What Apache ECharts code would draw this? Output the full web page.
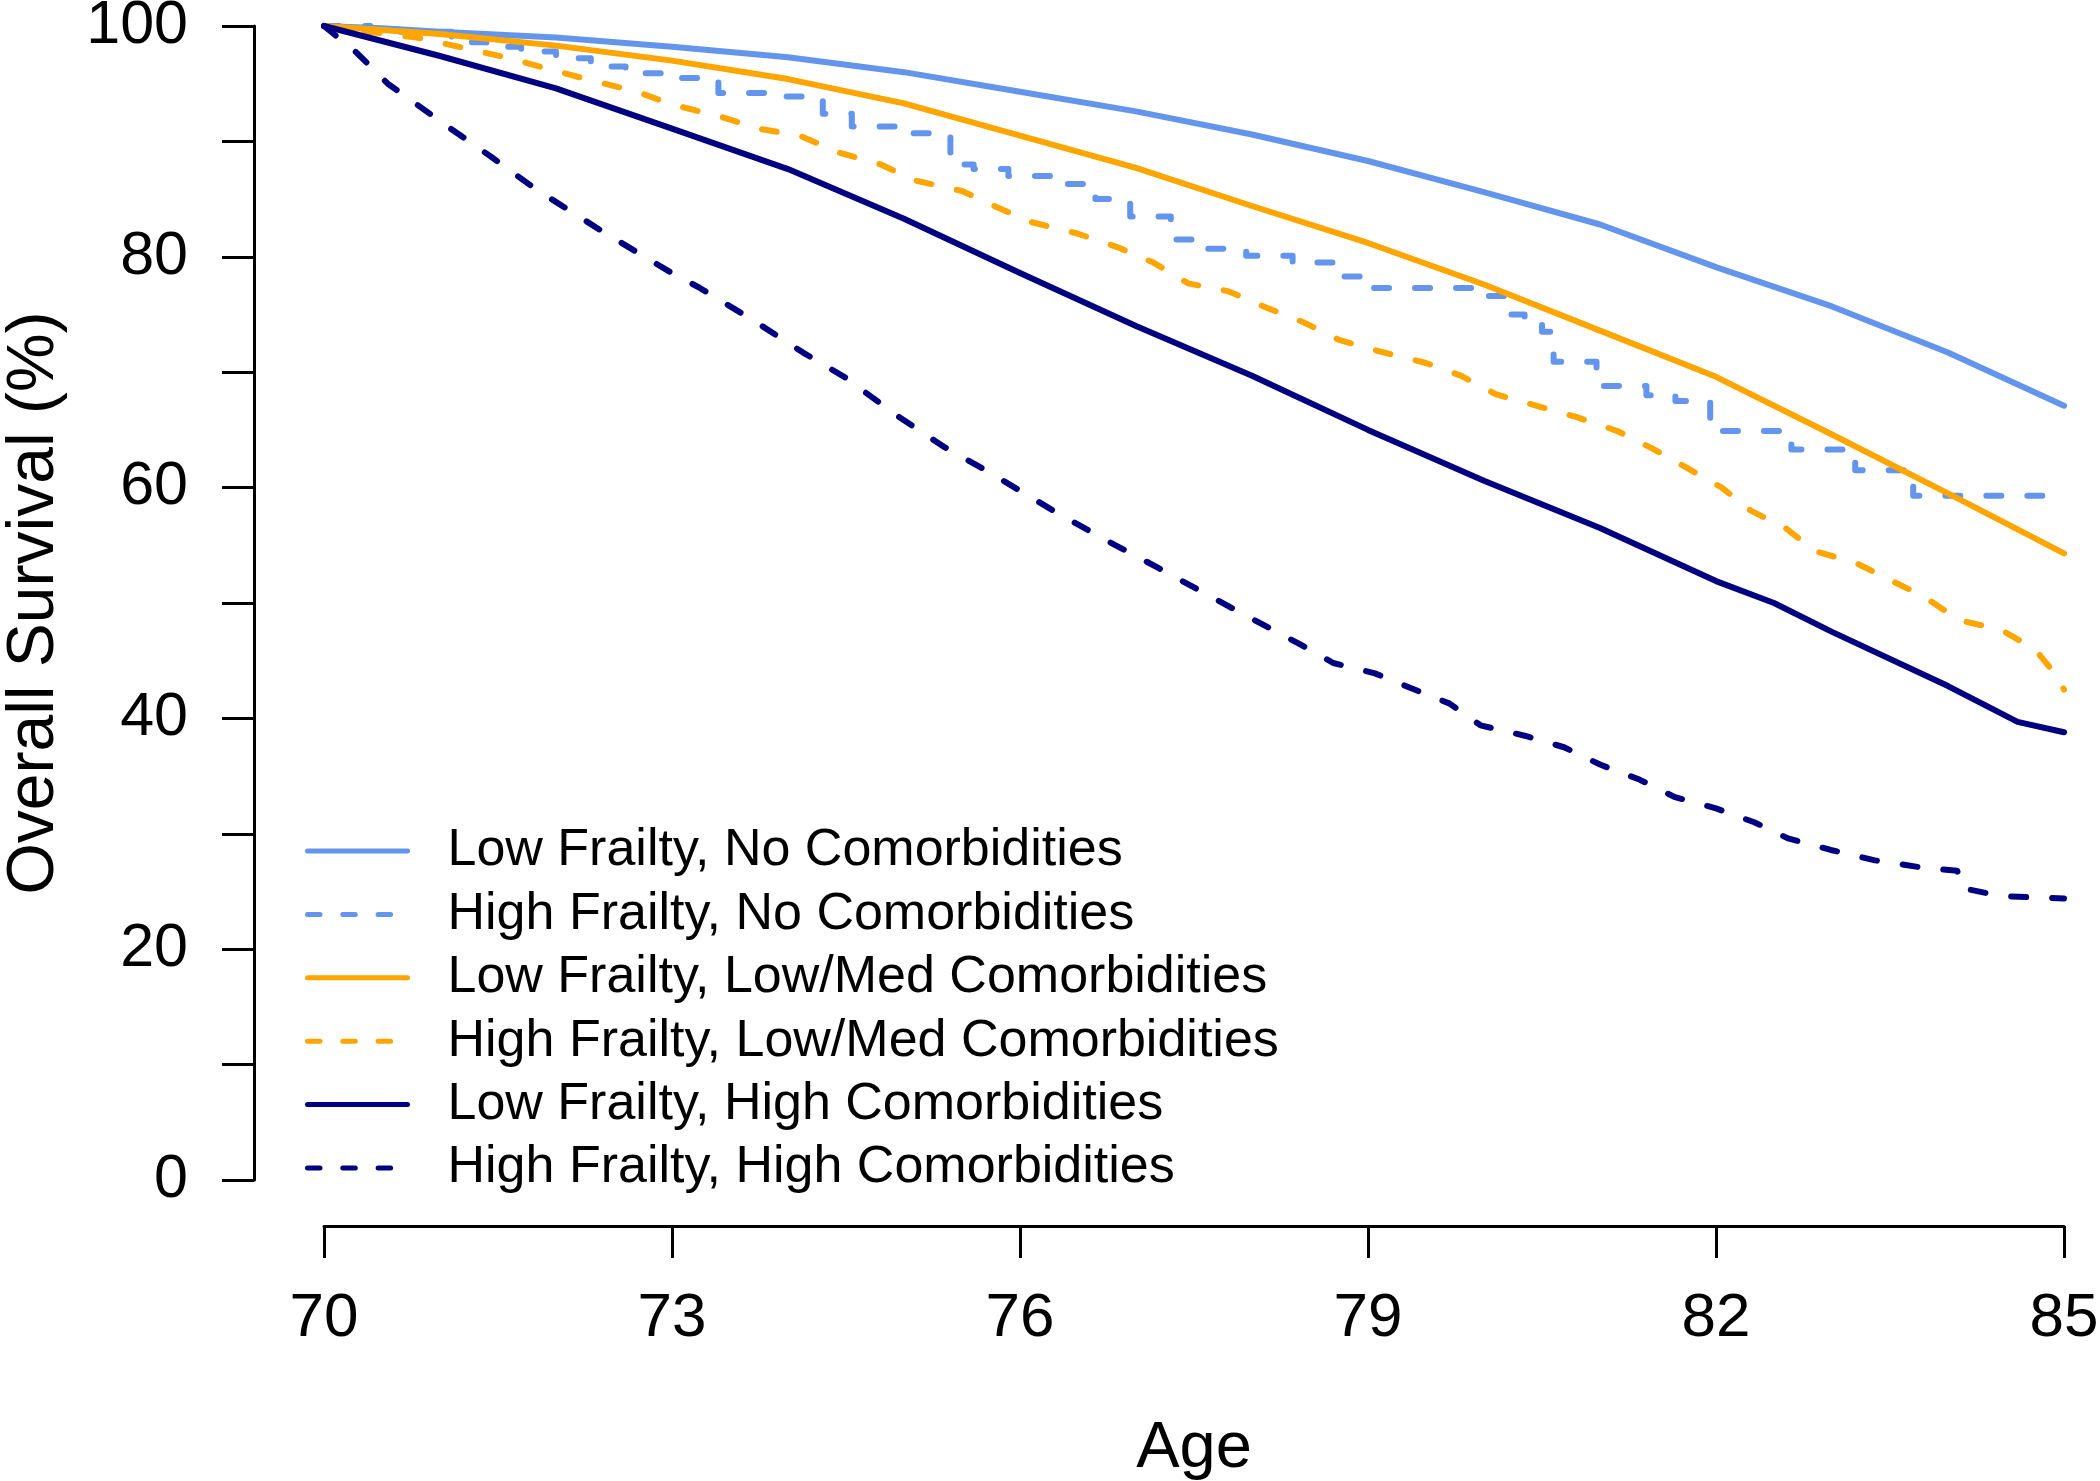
<!DOCTYPE html>
<html>
<head>
<meta charset="utf-8">
<script src="https://cdn.jsdelivr.net/npm/echarts@6/dist/echarts.min.js"></script>
<style>
html,body{margin:0;padding:0;background:#fff;}
#chart{width:2100px;height:1481px;}
</style>
</head>
<body>
<div id="chart"></div>
<script>
// ---- Data ----
const seriesNames = [
  'Low Frailty, No Comorbidities',
  'High Frailty, No Comorbidities',
  'Low Frailty, Low/Med Comorbidities',
  'High Frailty, Low/Med Comorbidities',
  'Low Frailty, High Comorbidities',
  'High Frailty, High Comorbidities'
];
const xTicks = [70, 73, 76, 79, 82, 85];
const yTicks = [0, 10, 20, 30, 40, 50, 60, 70, 80, 90, 100];
const yLabels = [0, 20, 40, 60, 80, 100];

const ageLowNo = [70, 70.5, 71, 72, 73, 74, 75, 76, 77, 78, 79, 80, 81, 82, 83, 84, 85];
const survLowNo = [100, 99.8, 99.5, 99.0, 98.2, 97.3, 96.0, 94.3, 92.6, 90.6, 88.3, 85.6, 82.8, 79.1, 75.7, 71.7, 67.1];

const ageHighNo = [70, 70.4, 71.1, 71.4, 71.7, 72.0, 72.3, 72.6, 73.0, 73.4, 73.85, 74.3, 74.55, 74.95, 75.4, 75.6, 75.9, 76.35, 76.65, 76.95, 77.3, 77.55, 77.95, 78.35, 78.75, 79.0, 79.9, 80.2, 80.35, 80.5, 80.6, 80.97, 81.4, 81.65, 81.95, 82.65, 83.2, 83.7, 85];
const survHighNo = [100, 99.5, 98.6, 98.2, 97.8, 97.2, 96.5, 95.9, 95.5, 94.2, 93.9, 92.4, 91.3, 90.7, 88.0, 87.6, 87.0, 86.3, 85.0, 83.5, 81.5, 80.7, 80.1, 79.5, 78.3, 77.3, 76.6, 75.0, 74.1, 73.5, 70.9, 68.8, 68.0, 67.5, 64.9, 63.3, 61.5, 59.3, 59.3];

const ageLowMed = [70, 71, 72, 73, 74, 75, 76, 77, 78, 79, 80, 81, 82, 83, 84, 85];
const survLowMed = [100, 99.3, 98.3, 97.0, 95.4, 93.3, 90.5, 87.7, 84.4, 81.2, 77.6, 73.6, 69.6, 64.6, 59.5, 54.3];

const ageHighMed = [70, 70.3, 70.8, 71.25, 71.6, 72.0, 72.3, 72.7, 73.0, 73.4, 73.75, 74.1, 74.45, 74.8, 75.1, 75.5, 75.8, 76.1, 76.5, 76.85, 77.15, 77.45, 77.8, 78.1, 78.45, 78.75, 79.1, 79.5, 79.8, 80.1, 80.45, 80.8, 81.15, 81.45, 81.75, 82.05, 82.3, 82.6, 82.85, 83.2, 83.5, 83.8, 84.1, 84.45, 84.75, 84.95, 85];
const survHighMed = [100, 99.6, 99.0, 98.0, 97.2, 96.1, 95.3, 94.3, 93.2, 92.2, 91.1, 90.5, 89.0, 88.0, 86.6, 85.7, 84.3, 83.0, 82.0, 80.8, 79.5, 77.7, 77.0, 75.7, 74.3, 72.8, 71.8, 70.8, 69.7, 68.1, 67.1, 66.1, 64.9, 63.4, 61.7, 60.0, 58.0, 56.5, 54.5, 53.5, 52.0, 50.5, 48.5, 47.7, 46.0, 43.5, 42.5];

const ageLowHigh = [70, 71, 72, 73, 74, 75, 76, 77, 78, 79, 80, 81, 82, 82.5, 83, 84, 84.6, 85];
const survLowHigh = [100, 97.4, 94.6, 91.1, 87.6, 83.3, 78.6, 74.0, 69.7, 65.0, 60.6, 56.5, 51.9, 50.0, 47.5, 42.8, 39.7, 38.8];

const ageHighHigh = [70, 70.28, 70.55, 71.05, 71.45, 71.82, 72.4, 72.98, 73.24, 73.7, 74.13, 74.5, 74.93, 75.35, 75.74, 76.32, 76.75, 77.2, 77.8, 78.1, 78.4, 78.7, 79.06, 79.4, 79.7, 79.97, 80.35, 80.69, 81.0, 81.34, 81.64, 82.0, 82.33, 82.62, 82.99, 83.37, 83.76, 84.08, 84.12, 84.46, 85];
const survHighHigh = [100, 97.7, 95.0, 91.4, 88.6, 85.9, 82.2, 78.7, 77.3, 74.5, 71.7, 69.5, 66.3, 63.5, 61.3, 57.8, 55.4, 53.0, 49.7, 48.1, 46.5, 44.8, 43.9, 42.5, 41.3, 39.4, 38.5, 37.5, 36.0, 34.7, 33.2, 32.2, 31.0, 29.6, 28.6, 27.7, 27.1, 26.8, 25.3, 24.6, 24.4];

// ---- Build ----
const zip = (a, b) => a.map((x, i) => [x, b[i]]);
const LIGHT = '#6495ED', ORANGE = '#FFA500', NAVY = '#000080';
const DASH = [15, 26];
const LEG_DASH = [12.5, 22.8];
const FONT = '"Liberation Sans", Arial, sans-serif';
const colors = [LIGHT, LIGHT, ORANGE, ORANGE, NAVY, NAVY];
const dashed = [false, true, false, true, false, true];

function mk(name, ages, vals, color, isDashed, step) {
  return {
    name: name,
    type: 'line',
    data: zip(ages, vals),
    symbol: 'none',
    showSymbol: false,
    step: step ? 'end' : false,
    clip: false,
    silent: true,
    animation: false,
    lineStyle: { color: color, width: 6, type: isDashed ? DASH : 'solid', cap: 'round', join: 'round' },
    itemStyle: { color: color }
  };
}

const series = [
  mk(seriesNames[0], ageLowNo, survLowNo, LIGHT, false, false),
  mk(seriesNames[1], ageHighNo, survHighNo, LIGHT, true, true),
  mk(seriesNames[2], ageLowMed, survLowMed, ORANGE, false, false),
  mk(seriesNames[3], ageHighMed, survHighMed, ORANGE, true, false),
  mk(seriesNames[4], ageLowHigh, survLowHigh, NAVY, false, false),
  mk(seriesNames[5], ageHighHigh, survHighHigh, NAVY, true, false)
];

const legendData = seriesNames.map((n, i) => ({
  name: n,
  itemStyle: { opacity: 0, borderWidth: 0 },
  lineStyle: { color: colors[i], width: 5, type: dashed[i] ? LEG_DASH : 'solid', cap: 'round' }
}));

const chart = echarts.init(document.getElementById('chart'), null, { renderer: 'canvas', width: 2100, height: 1481 });
chart.setOption({
  backgroundColor: '#ffffff',
  animation: false,
  textStyle: { fontFamily: FONT, color: '#000' },
  grid: { left: 324, right: 36, top: 26, bottom: 301, containLabel: false, outerBoundsMode: 'none' },
  xAxis: {
    type: 'value',
    min: 70, max: 85,
    offset: 46,
    name: 'Age',
    nameLocation: 'middle',
    nameGap: 191,
    nameTextStyle: { fontSize: 65, color: '#000', fontFamily: FONT },
    axisLine: { show: true, onZero: false, lineStyle: { color: '#000', width: 3 } },
    axisTick: { show: true, length: 32, lineStyle: { color: '#000', width: 3 }, customValues: xTicks },
    axisLabel: { fontSize: 62, color: '#000', margin: 62, fontFamily: FONT, customValues: xTicks, showMinLabel: true, showMaxLabel: true },
    splitLine: { show: false }
  },
  yAxis: {
    type: 'value',
    min: 0, max: 100,
    offset: 70,
    name: 'Overall Survival (%)',
    nameLocation: 'middle',
    nameRotate: 90,
    nameGap: 186,
    nameTextStyle: { fontSize: 66, color: '#000', fontFamily: FONT },
    axisLine: { show: true, onZero: false, lineStyle: { color: '#000', width: 3 } },
    axisTick: { show: true, length: 32, lineStyle: { color: '#000', width: 3 }, customValues: yTicks },
    axisLabel: { fontSize: 61, color: '#000', margin: 66, fontFamily: FONT, customValues: yLabels },
    splitLine: { show: false }
  },
  legend: {
    orient: 'vertical',
    left: 300,
    top: 820,
    itemWidth: 100,
    itemHeight: 14,
    itemGap: 11.4,
    selectedMode: false,
    data: legendData,
    itemStyle: { opacity: 0, borderWidth: 0 },
    textStyle: { fontSize: 52, color: '#000', fontFamily: FONT, lineHeight: 52, padding: [0, 0, 0, 35] }
  },
  series: series
});
</script>
</body>
</html>
